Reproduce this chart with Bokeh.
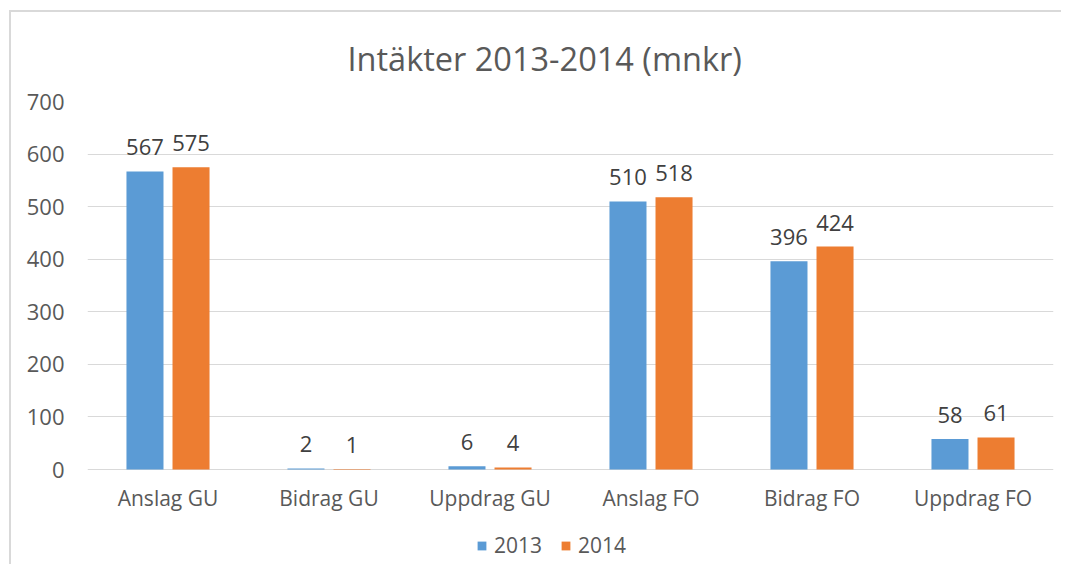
from bokeh.plotting import figure
from bokeh.models import ColumnDataSource, FactorRange, Range1d, FixedTicker, Legend, LegendItem
from bokeh.transform import dodge
from bokeh.core.properties import value
from bokeh.embed import file_html
from bokeh.resources import INLINE

categories = ["Anslag GU", "Bidrag GU", "Uppdrag GU", "Anslag FO", "Bidrag FO", "Uppdrag FO"]
series_2013 = [567, 2, 6, 510, 396, 58]
series_2014 = [575, 1, 4, 518, 424, 61]
y_ticks = [0, 100, 200, 300, 400, 500, 600, 700]

FONT = value("Open Sans")
TXT = "#595959"
BLUE = "#5B9BD5"
ORANGE = "#ED7D31"

src = ColumnDataSource(dict(
    cat=categories,
    v13=series_2013,
    v14=series_2014,
    t13=[str(v) for v in series_2013],
    t14=[str(v) for v in series_2014],
))

# plot area: 368 px for 0..700, plus 95 px of room below zero for labels and legend
PLOT_PX = 368
EXTRA_PX = 95
y_min = -EXTRA_PX / PLOT_PX * 700

p = figure(
    x_range=FactorRange(*categories),
    y_range=Range1d(y_min, 700),
    frame_width=966, frame_height=PLOT_PX + EXTRA_PX,
    output_backend="svg", toolbar_location=None,
    min_border_left=76, min_border_right=8, min_border_top=89, min_border_bottom=0,
    title="Intäkter 2013-2014 (mnkr)",
)
p.styles = {"margin-left": "9px", "margin-top": "10px",
            "border-left": "2px solid #d9d9d9", "border-top": "2px solid #d9d9d9"}

p.title.align = "left"
p.title.offset = 260
p.title.text_font = "Open Sans"
p.title.text_font_size = "32.5px"
p.title.text_font_style = "normal"
p.title.text_color = TXT
p.title.standoff = 42

p.outline_line_color = None
p.xgrid.grid_line_color = None
p.ygrid.grid_line_color = "#d9d9d9"
p.ygrid.grid_line_width = 1
p.xaxis.visible = False

p.yaxis.ticker = FixedTicker(ticks=y_ticks)
ax = p.yaxis[0]
ax.axis_line_color = None
ax.major_tick_line_color = None
ax.minor_tick_line_color = None
ax.major_tick_out = 0
ax.major_tick_in = 0
ax.major_label_text_font = "Open Sans"
ax.major_label_text_color = TXT
ax.major_label_text_font_size = "22px"
ax.major_label_standoff = 23

r13 = p.vbar(x=dodge("cat", -0.143, range=p.x_range), top="v13", width=0.23, source=src,
             fill_color=BLUE, line_color=None)
r14 = p.vbar(x=dodge("cat", 0.143, range=p.x_range), top="v14", width=0.23, source=src,
             fill_color=ORANGE, line_color=None)

p.text(x=dodge("cat", -0.143, range=p.x_range), y="v13", text="t13", source=src,
       text_font=FONT, text_font_size="22px", text_color="#404040",
       text_align="center", text_baseline="alphabetic", y_offset=-24)
p.text(x=dodge("cat", 0.143, range=p.x_range), y="v14", text="t14", source=src,
       text_font=FONT, text_font_size="22px", text_color="#404040",
       text_align="center", text_baseline="alphabetic", y_offset=-24)

# category labels under the zero line
p.text(x="cat", y=0, text="cat", source=src,
       text_font=FONT, text_font_size="21px", text_color=TXT,
       text_align="center", text_baseline="middle", y_offset=28)

legend = Legend(
    items=[LegendItem(label="2013", renderers=[r13]), LegendItem(label="2014", renderers=[r14])],
    orientation="horizontal",
    location=(389, 5),
    glyph_width=11, glyph_height=11,
    label_text_font="Open Sans", label_text_font_size="21px", label_text_color=TXT,
    label_standoff=7, spacing=18, padding=0, margin=0,
    border_line_color=None, background_fill_alpha=0,
)
p.add_layout(legend, "center")

open("out.html", "w").write(file_html(p, INLINE))
